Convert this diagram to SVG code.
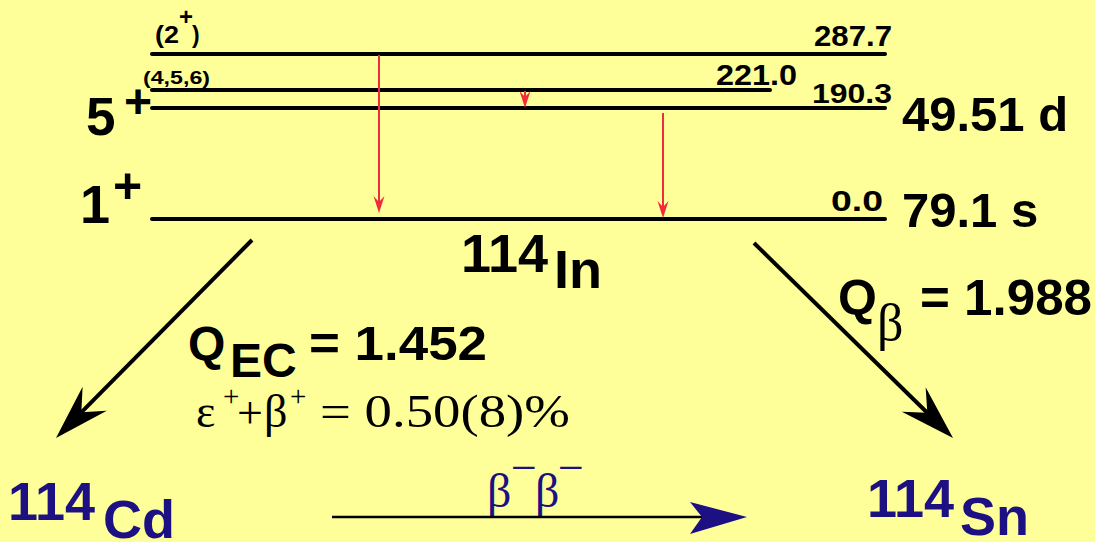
<svg xmlns="http://www.w3.org/2000/svg" width="1095" height="542" viewBox="0 0 1095 542">
<defs>
<style>
.lvl{stroke:#000;stroke-width:4;stroke-linecap:round;fill:none}
.b{font-family:"Liberation Sans",Arial,sans-serif;font-weight:bold;fill:#000}
.s{font-family:"Liberation Serif","Times New Roman",serif;fill:#000}
.navy{fill:#1c1082}
.gam{stroke:#f22b3c;stroke-width:2;fill:none}
.dec{stroke:#000;stroke-width:4;fill:none}
</style>
<marker id="gh" markerUnits="userSpaceOnUse" viewBox="-20 -8 22 16" markerWidth="22" markerHeight="16" refX="-10" refY="0" orient="auto" overflow="visible"><path d="M0,0 L-17,-5.5 L-11,0 L-17,5.5 Z" fill="#f22b3c"/></marker>
<marker id="dh" markerUnits="userSpaceOnUse" viewBox="-60 -20 62 40" markerWidth="62" markerHeight="40" refX="-30" refY="0" orient="auto" overflow="visible"><path d="M0,0 L-55,-17 L-36,0 L-55,17 Z" fill="#000"/></marker>
</defs>
<rect x="0" y="0" width="1095" height="542" fill="#ffff99"/>

<g id="level-287.7">
<line class="lvl" x1="152" y1="54" x2="885" y2="54"/>
<text class="b" x="155" y="43" font-size="23" textLength="24" lengthAdjust="spacingAndGlyphs">(2</text>
<text class="b" x="179" y="25" font-size="24">+</text>
<text class="b" x="192" y="43" font-size="23">)</text>
<text class="b" x="814" y="46" font-size="29" textLength="78" lengthAdjust="spacingAndGlyphs">287.7</text>
</g>

<g id="level-221.0">
<line class="lvl" x1="152" y1="90" x2="770" y2="90"/>
<text class="b" x="143" y="84" font-size="19" textLength="67" lengthAdjust="spacingAndGlyphs">(4,5,6)</text>
<text class="b" x="716" y="85" font-size="29" textLength="81" lengthAdjust="spacingAndGlyphs">221.0</text>
</g>

<g id="level-190.3">
<line class="lvl" x1="152" y1="108" x2="885" y2="108"/>
<text class="b" x="86" y="135" font-size="53">5</text>
<text class="b" x="124" y="118" font-size="48">+</text>
<text class="b" x="812" y="103" font-size="28" textLength="80" lengthAdjust="spacingAndGlyphs">190.3</text>
<text class="b" x="902" y="131" font-size="49">49.51 d</text>
</g>

<g id="level-0.0">
<line class="lvl" x1="152" y1="219" x2="885" y2="219"/>
<text class="b" x="80" y="223" font-size="54">1</text>
<text class="b" x="113" y="203" font-size="50">+</text>
<text class="b" x="831" y="211" font-size="29" textLength="52" lengthAdjust="spacingAndGlyphs">0.0</text>
<text class="b" x="902" y="227" font-size="49">79.1 s</text>
</g>

<g id="parent-114In">
<text class="b" x="461" y="272" font-size="54">114</text>
<text class="b" x="554" y="288" font-size="54">In</text>
</g>

<g id="label-QEC">
<text class="b" x="188" y="360" font-size="48">Q</text>
<text class="b" x="230" y="377" font-size="48">EC</text>
<text class="b" x="309" y="360" font-size="48" textLength="178" lengthAdjust="spacingAndGlyphs">= 1.452</text>
<text class="s" x="196" y="427" font-size="46">ε</text>
<text class="s" x="223" y="406" font-size="29">+</text>
<text class="s" x="237" y="428" font-size="46">+</text>
<text class="s" x="264" y="427" font-size="46">β</text>
<text class="s" x="290" y="406" font-size="29">+</text>
<text class="s" x="320" y="427" font-size="46" textLength="250" lengthAdjust="spacingAndGlyphs">= 0.50(8)%</text>
</g>

<g id="label-Qbeta">
<text class="b" x="838" y="315" font-size="50">Q</text>
<text class="s" x="877" y="340" font-size="52">β</text>
<text class="b" x="920" y="315" font-size="50" textLength="172" lengthAdjust="spacingAndGlyphs">= 1.988</text>
</g>

<g id="daughter-114Cd">
<text class="b navy" x="8" y="520" font-size="54">114</text>
<text class="b navy" x="103" y="538" font-size="54">Cd</text>
</g>

<g id="daughter-114Sn">
<text class="b navy" x="867" y="517" font-size="54">114</text>
<text class="b navy" x="960" y="535" font-size="54">Sn</text>
</g>

<g id="label-bb">
<text class="s navy" x="487" y="507" font-size="48">β</text>
<text class="s navy" x="511" y="483" font-size="46">−</text>
<text class="s navy" x="535" y="507" font-size="48">β</text>
<text class="s navy" x="558" y="483" font-size="46">−</text>
</g>

<g id="connectors">
<line class="gam" x1="379" y1="55" x2="379" y2="203" marker-end="url(#gh)"/>
<line class="gam" x1="525" y1="91" x2="525" y2="98" marker-end="url(#gh)"/>
<line class="gam" x1="663" y1="113" x2="663" y2="208" marker-end="url(#gh)"/>
<line class="dec" x1="252" y1="240" x2="77.1" y2="416.6" marker-end="url(#dh)"/>
<line class="dec" x1="754" y1="243" x2="931.6" y2="417" marker-end="url(#dh)"/>
<line x1="332" y1="517" x2="702" y2="517" stroke="#000" stroke-width="2.5"/>
<polygon points="747,517 690,502 702,517 690,534" fill="#1c1082"/>
</g>
</svg>
